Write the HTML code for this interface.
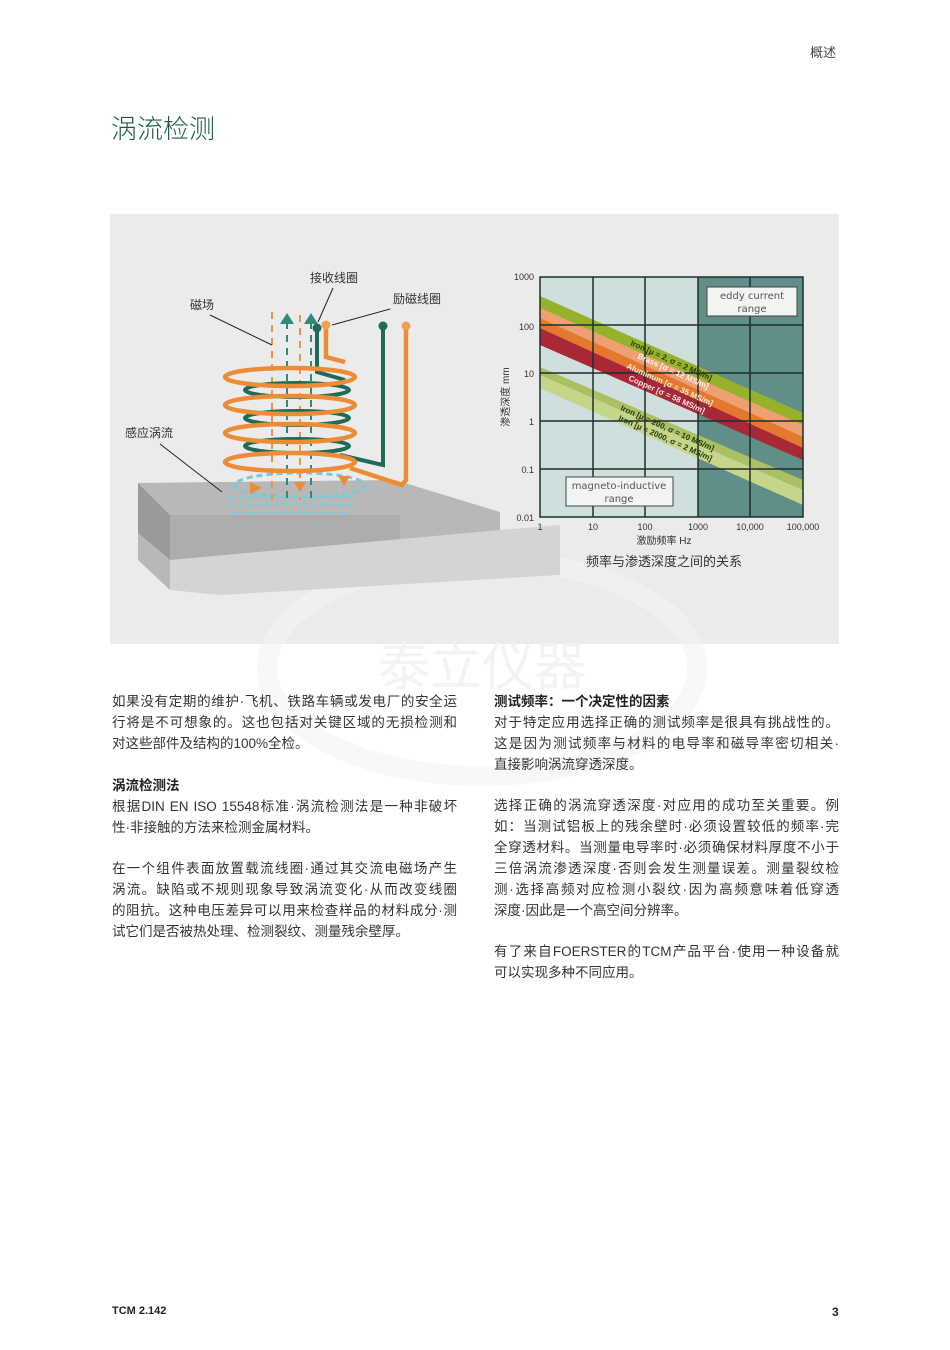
<!DOCTYPE html>
<html><head><meta charset="utf-8">
<style>
*{margin:0;padding:0;box-sizing:border-box}
body{width:950px;height:1350px;background:#fff;position:relative;overflow:hidden;font-family:"Liberation Sans","Noto Sans CJK SC",sans-serif;color:#2a2a2a}
.a{position:absolute;white-space:nowrap}
.l{position:absolute;font-size:13.5px;line-height:21px;height:21px;white-space:nowrap;color:#333}
.j{text-align:justify;text-align-last:justify}
.b{font-weight:bold;color:#222}
</style></head><body>
<div class="a" style="left:810px;top:42px;font-size:13px;color:#444">概述</div>
<div class="a" style="left:111px;top:109px;font-size:26px;color:#1d5a4c;font-weight:300">涡流检测</div>

<div class="a" style="left:110px;top:214px;width:729px;height:430px;background:#ebebeb"></div>

<svg class="a" style="left:0;top:0" width="950" height="1350" viewBox="0 0 950 1350">
 <!-- watermark -->
 <ellipse cx="482" cy="668" rx="215" ry="108" fill="none" stroke="#f3f3f3" stroke-width="20" opacity="0.6"/>
 <text x="482" y="685" font-size="52" text-anchor="middle" fill="#f3f3f3" font-family="Noto Sans CJK SC,sans-serif">泰立仪器</text>
 <!-- block -->
 <polygon points="138,483 395,480 500,512 500,560 170,560 170,515" fill="#b8b8b8"/>
 <polygon points="138,483 170,515 170,560 138,533" fill="#9a9a9a"/>
 <polygon points="170,515 400,515 400,560 170,560" fill="#a8a8a8" opacity="0.7"/>
 <polygon points="170,560 500,530 560,525 560,575 220,595 170,590" fill="#d4d4d4"/>
 <polygon points="138,533 170,560 170,590 138,560" fill="#b8b8b8"/>
 <!-- eddy -->
 <ellipse cx="300" cy="485" rx="65" ry="12" fill="none" stroke="#7cc9d8" stroke-width="3" stroke-dasharray="6 4"/>
 <g stroke="#7cc9d8" stroke-width="2" stroke-dasharray="5 4">
  <line x1="230" y1="497" x2="355" y2="497"/><line x1="230" y1="505" x2="355" y2="505"/><line x1="232" y1="513" x2="350" y2="513"/>
 </g>
 <!-- dashed field -->
 <g stroke-width="2" stroke-dasharray="7 6">
  <line x1="272" y1="312" x2="272" y2="500" stroke="#e8944a"/>
  <line x1="287" y1="322" x2="287" y2="500" stroke="#2f8a78"/>
  <line x1="300" y1="315" x2="300" y2="500" stroke="#e8944a"/>
  <line x1="311" y1="322" x2="311" y2="500" stroke="#2f8a78"/>
 </g>
 <polygon points="280,324 287,313 294,324" fill="#2f8a78"/>
 <polygon points="304,324 311,313 318,324" fill="#2f8a78"/>
 <!-- teal coil -->
 <g fill="none" stroke="#1d6b58" stroke-width="4">
  <ellipse cx="297" cy="390" rx="52" ry="7"/>
  <ellipse cx="297" cy="418" rx="52" ry="7"/>
  <ellipse cx="297" cy="446" rx="52" ry="7"/>
  <polyline points="317,328 317,372 345,380"/>
  <polyline points="340,455 383,465 383,328"/>
 </g>
 <circle cx="317" cy="328" r="4.5" fill="#1d6b58"/>
 <circle cx="383" cy="326" r="4.5" fill="#1d6b58"/>
 <!-- orange coil -->
 <g fill="none" stroke="#ec8c36" stroke-width="4.5">
  <ellipse cx="290" cy="377" rx="65" ry="9"/>
  <ellipse cx="290" cy="405" rx="65" ry="9"/>
  <ellipse cx="290" cy="433" rx="65" ry="9"/>
  <ellipse cx="290" cy="462" rx="65" ry="9"/>
  <polyline points="326,325 326,357 345,362"/>
  <polyline points="350,468 402,485 406,480 406,327"/>
 </g>
 <circle cx="326" cy="325" r="4.5" fill="#f0a050"/>
 <circle cx="406" cy="326" r="4.5" fill="#f0a050"/>
 <polygon points="250,482 262,488 250,494" fill="#ec8c36"/>
 <polygon points="294,482 300,492 306,482" fill="#ec8c36"/>
 <polygon points="338,476 344,486 350,476" fill="#ec8c36"/>
 <!-- labels leaders -->
 <g stroke="#222" stroke-width="1">
  <line x1="210" y1="315" x2="272" y2="345"/>
  <line x1="333" y1="288" x2="318" y2="322"/>
  <line x1="390" y1="309" x2="332" y2="325"/>
  <line x1="160" y1="444" x2="222" y2="492"/>
 </g>
 <g font-size="12" fill="#333" font-family="Liberation Sans,Noto Sans CJK SC,sans-serif">
  <text x="190" y="309">磁场</text>
  <text x="310" y="282">接收线圈</text>
  <text x="393" y="303">励磁线圈</text>
  <text x="125" y="437">感应涡流</text>
 </g>

 <!-- chart -->
 <rect x="540" y="277" width="158" height="240" fill="#cfdfdd"/>
 <rect x="698" y="277" width="105" height="240" fill="#5f8f88"/>
 <defs><clipPath id="c"><rect x="540" y="277" width="263" height="240"/></clipPath></defs>
 <g clip-path="url(#c)">
  <polygon points="540,296 803,413 803,425 540,308" fill="#96b22a"/>
  <polygon points="540,308 803,425 803,437 540,318" fill="#eea070"/>
  <polygon points="540,318 803,437 803,448 540,328" fill="#e3782e"/>
  <polygon points="540,328 803,448 803,460 540,345" fill="#a82838"/>
  <polygon points="540,367 803,480 803,490 540,375" fill="#a9c063"/>
  <polygon points="540,375 803,490 803,505 540,388" fill="#c5d58a"/>
 </g>
 <g stroke="#1e2e2c" stroke-width="1.5" fill="none">
  <rect x="540" y="277" width="263" height="240"/>
  <line x1="593" y1="277" x2="593" y2="517"/><line x1="645" y1="277" x2="645" y2="517"/>
  <line x1="698" y1="277" x2="698" y2="517"/><line x1="750" y1="277" x2="750" y2="517"/>
  <line x1="540" y1="325" x2="803" y2="325"/><line x1="540" y1="373" x2="803" y2="373"/>
  <line x1="540" y1="421" x2="803" y2="421"/><line x1="540" y1="469" x2="803" y2="469"/>
 </g>
 <rect x="707" y="287" width="90" height="29" fill="#f2f4f4" stroke="#444"/>
 <rect x="566" y="477" width="107" height="29" fill="#f2f4f4" stroke="#444"/>
 <g font-size="10" fill="#555" text-anchor="middle" font-family="DejaVu Sans,sans-serif">
  <text x="752" y="299">eddy current</text><text x="752" y="312">range</text>
  <text x="619" y="489">magneto-inductive</text><text x="619" y="502">range</text>
 </g>
 <g font-size="8" font-weight="bold" font-family="Liberation Sans,sans-serif">
  <text transform="translate(630,345) rotate(24)" fill="#2a3a10">Iron [μ = 2, σ = 2 MS/m]</text>
  <text transform="translate(637,358) rotate(24)" fill="#fff5ea">Brass [σ = 12 MS/m]</text>
  <text transform="translate(626,368) rotate(24)" fill="#ffe6d0">Aluminum [σ = 35 MS/m]</text>
  <text transform="translate(628,380) rotate(24)" fill="#ffe0e0">Copper [σ = 58 MS/m]</text>
  <text transform="translate(620,410) rotate(24)" fill="#2a3a10">Iron [μ = 200, σ = 10 MS/m]</text>
  <text transform="translate(618,420) rotate(24)" fill="#2a3a10">Iron [μ = 2000, σ = 2 MS/m]</text>
 </g>
 <g font-size="9" fill="#333" font-family="Liberation Sans,sans-serif">
  <text x="534" y="280" text-anchor="end">1000</text>
  <text x="534" y="330" text-anchor="end">100</text>
  <text x="534" y="377" text-anchor="end">10</text>
  <text x="534" y="425" text-anchor="end">1</text>
  <text x="534" y="473" text-anchor="end">0.1</text>
  <text x="534" y="521" text-anchor="end">0.01</text>
  <text x="540" y="530" text-anchor="middle">1</text>
  <text x="593" y="530" text-anchor="middle">10</text>
  <text x="645" y="530" text-anchor="middle">100</text>
  <text x="698" y="530" text-anchor="middle">1000</text>
  <text x="750" y="530" text-anchor="middle">10,000</text>
  <text x="803" y="530" text-anchor="middle">100,000</text>
 </g>
 <text x="664" y="544" font-size="10" fill="#333" text-anchor="middle" font-family="Liberation Sans,Noto Sans CJK SC,sans-serif">激励频率 Hz</text>
 <text transform="translate(509,397) rotate(-90)" font-size="10" fill="#333" text-anchor="middle" font-family="Liberation Sans,Noto Sans CJK SC,sans-serif">渗透深度 mm</text>
 <text x="664" y="566" font-size="13" fill="#333" text-anchor="middle" font-family="Liberation Sans,Noto Sans CJK SC,sans-serif">频率与渗透深度之间的关系</text>
</svg>

<!-- left column -->
<div class="l j" style="left:112px;top:691px;width:345px">如果没有定期的维护·飞机、铁路车辆或发电厂的安全运</div>
<div class="l j" style="left:112px;top:712px;width:345px">行将是不可想象的。这也包括对关键区域的无损检测和</div>
<div class="l" style="left:112px;top:733px">对这些部件及结构的100%全检。</div>
<div class="l b" style="left:112px;top:775px">涡流检测法</div>
<div class="l j" style="left:112px;top:796px;width:345px">根据DIN EN ISO 15548标准·涡流检测法是一种非破坏</div>
<div class="l" style="left:112px;top:817px">性·非接触的方法来检测金属材料。</div>
<div class="l j" style="left:112px;top:858px;width:345px">在一个组件表面放置载流线圈·通过其交流电磁场产生</div>
<div class="l j" style="left:112px;top:879px;width:345px">涡流。缺陷或不规则现象导致涡流变化·从而改变线圈</div>
<div class="l j" style="left:112px;top:900px;width:345px">的阻抗。这种电压差异可以用来检查样品的材料成分·测</div>
<div class="l" style="left:112px;top:921px">试它们是否被热处理、检测裂纹、测量残余壁厚。</div>

<!-- right column -->
<div class="l b" style="left:494px;top:691px">测试频率：一个决定性的因素</div>
<div class="l j" style="left:494px;top:712px;width:345px">对于特定应用选择正确的测试频率是很具有挑战性的。</div>
<div class="l j" style="left:494px;top:733px;width:345px">这是因为测试频率与材料的电导率和磁导率密切相关·</div>
<div class="l" style="left:494px;top:754px">直接影响涡流穿透深度。</div>
<div class="l j" style="left:494px;top:795px;width:345px">选择正确的涡流穿透深度·对应用的成功至关重要。例</div>
<div class="l j" style="left:494px;top:816px;width:345px">如：当测试铝板上的残余壁时·必须设置较低的频率·完</div>
<div class="l j" style="left:494px;top:837px;width:345px">全穿透材料。当测量电导率时·必须确保材料厚度不小于</div>
<div class="l j" style="left:494px;top:858px;width:345px">三倍涡流渗透深度·否则会发生测量误差。测量裂纹检</div>
<div class="l j" style="left:494px;top:879px;width:345px">测·选择高频对应检测小裂纹·因为高频意味着低穿透</div>
<div class="l" style="left:494px;top:900px">深度·因此是一个高空间分辨率。</div>
<div class="l j" style="left:494px;top:941px;width:345px">有了来自FOERSTER的TCM产品平台·使用一种设备就</div>
<div class="l" style="left:494px;top:962px">可以实现多种不同应用。</div>

<div class="a" style="left:112px;top:1305px;font-size:11px;font-weight:bold;color:#222">TCM 2.142</div>
<div class="a" style="left:832px;top:1305px;font-size:12px;font-weight:bold;color:#222">3</div>
</body></html>
